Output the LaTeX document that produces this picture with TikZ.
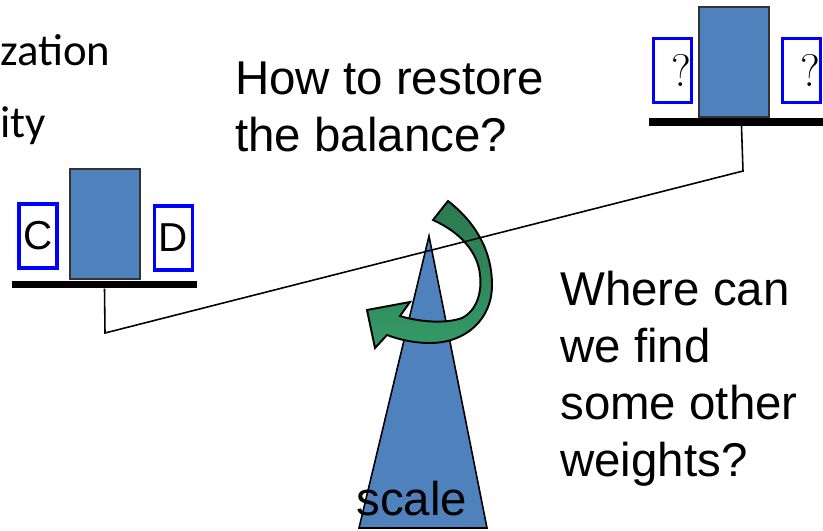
\documentclass[tikz,border=0pt]{standalone}
\usepackage{fontspec}
\setsansfont{Liberation Sans}
\newfontfamily\calfont{Carlito}
\usetikzlibrary{positioning}

\definecolor{weightblue}{RGB}{79,129,189}
\definecolor{gdark}{RGB}{44,122,80}
\definecolor{glight}{RGB}{52,155,104}

\tikzset{
  weight/.style={draw=black!80, line width=0.8pt, fill=weightblue,
    minimum width=1.4cm, minimum height=2.2cm, inner sep=0pt},
  unknown/.style={draw=blue, line width=2.2pt, minimum width=0.76cm,
    minimum height=1.28cm, inner sep=0pt},
  pan/.style={fill=black, minimum width=3.7cm, minimum height=0.15cm, inner sep=0pt},
  bigtext/.style={font=\sffamily\fontsize{27}{32.4}\selectfont, align=left, inner sep=0pt},
  sidetext/.style={anchor=base west, inner sep=0pt, font=\calfont\fontsize{25.5}{31}\selectfont},
}

\begin{document}
\begin{tikzpicture}[x=0.02cm, y=-0.02cm]
\useasboundingbox (0,0) rectangle (823,531);

% text at the left border
\node (tzation) [sidetext] at (0,65) {zation};
\node (tity) [sidetext] at (0,137) {ity};

% the scale
\draw[fill=weightblue, line width=0.9pt] (359,528) -- (429,236) -- (487,528) -- cycle;
\node (tscale) [bigtext, anchor=base west] at (356,515) {scale};

% left pan
\node (lpan) [pan] at (104.5,284.5) {};
\node (lweight) [weight] at (105,224) {};
\node (cbox) [unknown, font=\sffamily\fontsize{23}{27}\selectfont] at (38,236) {C};
\node (dbox) [unknown, font=\sffamily\fontsize{23}{27}\selectfont] at (173.5,238) {D};

% right pan
\node (rpan) [pan] at (741.5,122) {};
\node (rweight) [weight] at (734,62) {};
\node (qleft) [unknown, font=\fontsize{26}{30}\selectfont, text depth=0pt] at (672.5,70.5) {\hspace{0.4em}?};
\node (qright) [unknown, font=\fontsize{26}{30}\selectfont, text depth=0pt] at (801.5,70.5) {\hspace{0.4em}?};

% turning arrow
\path[draw=black, line width=1.1pt, top color=gdark, bottom color=glight, middle color=gdark!60!glight]
  (448,201) .. controls (475,222) and (492,250) .. (492,285)
  .. controls (492,320) and (465,343) .. (430,343)
  .. controls (415,343) and (400,340) .. (387,335)
  -- (375,348) -- (367,310) -- (410,302) -- (400,316)
  .. controls (420,322) and (445,324) .. (462,318)
  .. controls (478,310) and (482,290) .. (480,275)
  .. controls (478,252) and (460,232) .. (433,220) -- cycle;

% beam
\coordinate (lhang) at (105,333);
\coordinate (rhang) at (743,171);
\draw[line width=0.9pt] (lpan.south) -- (lhang) -- (rhang) -- (rpan.south);

\node (tquestion) [bigtext, anchor=north west] at (235,62) {How to restore\\the balance?};
\node (tweights) [bigtext, anchor=north west] at (560,271) {Where can\\we find\\some other\\weights?};
\end{tikzpicture}
\end{document}
